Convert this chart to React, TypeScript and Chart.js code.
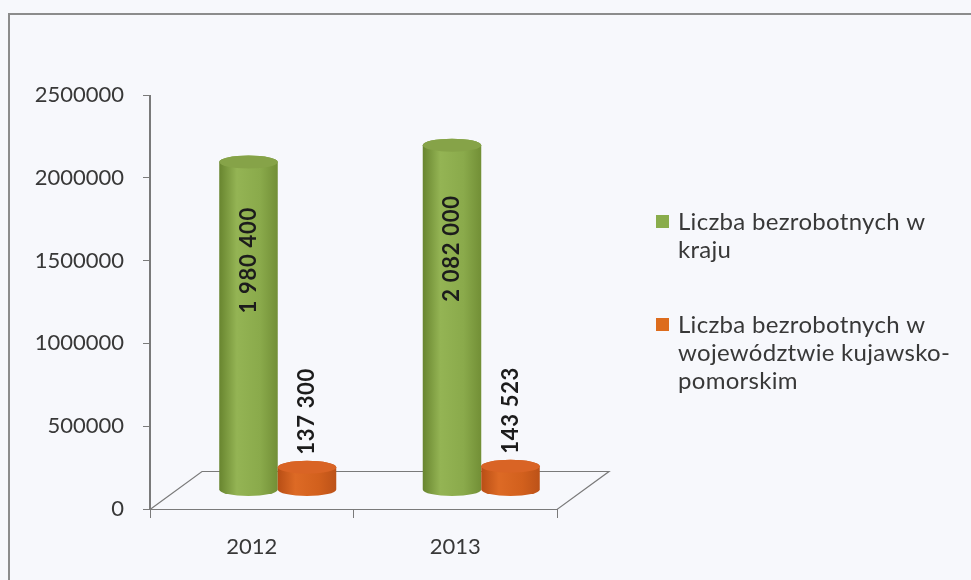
import React, { useEffect, useRef } from 'react';
import { Chart, registerables } from 'chart.js';

Chart.register(...registerables);

// ---- data ----
const categories = ['2012', '2013'];
const seriesNames = [
  'Liczba bezrobotnych w kraju',
  'Liczba bezrobotnych w województwie kujawsko-pomorskim',
];
const legendLines = [
  ['Liczba bezrobotnych w', 'kraju'],
  ['Liczba bezrobotnych w', 'województwie kujawsko-', 'pomorskim'],
];
const krajValues = [1980400, 2082000];
const regionValues = [137300, 143523];
const yMin = 0;
const yMax = 2500000;
const yStep = 500000;

// ---- styles ----
const FONT = 'Lato, "Open Sans", sans-serif';
const TEXT = '#383838';
const AXIS = '#7a7a7a';
const BG = '#f7f8fc';
const DEPTH_X = 52;
const DEPTH_Y = -38;
const BAR_DX = 26;
const BAR_DY = -19;
const ELL_RY = 6.5;

const palettes = [
  { stops: ['#68852f', '#94b454', '#8aaa4b', '#728f36'], top: '#86a348', legend: '#8aad4c' },
  { stops: ['#b84e15', '#dd6a25', '#d2601d', '#bc5218'], top: '#d96425', legend: '#dd6c1d' },
];

const fmt = (n: number) => String(n).replace(/\B(?=(\d{3})+(?!\d))/g, ' ');

function drawCylinder(ctx: CanvasRenderingContext2D, cx: number, top: number, bottom: number, w: number, pal: any) {
  const rx = w / 2;
  const g = ctx.createLinearGradient(cx - rx, 0, cx + rx, 0);
  g.addColorStop(0, pal.stops[0]);
  g.addColorStop(0.3, pal.stops[1]);
  g.addColorStop(0.7, pal.stops[2]);
  g.addColorStop(1, pal.stops[3]);
  ctx.beginPath();
  ctx.moveTo(cx - rx, top);
  ctx.lineTo(cx - rx, bottom);
  ctx.ellipse(cx, bottom, rx, ELL_RY, 0, Math.PI, 0, true);
  ctx.lineTo(cx + rx, top);
  ctx.ellipse(cx, top, rx, ELL_RY, 0, 0, Math.PI, true);
  ctx.closePath();
  ctx.fillStyle = g;
  ctx.fill();
  ctx.beginPath();
  ctx.ellipse(cx, top, rx, ELL_RY, 0, 0, Math.PI * 2);
  ctx.fillStyle = pal.top;
  ctx.fill();
}

const cylinderPlugin = {
  id: 'cylinder3d',
  beforeDraw(chart: any) {
    const ctx = chart.ctx as CanvasRenderingContext2D;
    ctx.save();
    ctx.fillStyle = BG;
    ctx.fillRect(0, 0, chart.width, chart.height);
    ctx.strokeStyle = '#8c8c8c';
    ctx.lineWidth = 2;
    ctx.beginPath();
    ctx.moveTo(9, chart.height);
    ctx.lineTo(9, 14);
    ctx.lineTo(chart.width, 14);
    ctx.stroke();
    ctx.restore();
  },
  beforeDatasetsDraw(chart: any) {
    const ctx = chart.ctx as CanvasRenderingContext2D;
    const { left, right, top, bottom } = chart.chartArea;
    ctx.save();
    ctx.strokeStyle = AXIS;
    ctx.lineWidth = 1.2;
    ctx.beginPath();
    ctx.moveTo(left, bottom + 0.5);
    ctx.lineTo(left + DEPTH_X, bottom + DEPTH_Y + 0.5);
    ctx.lineTo(right + DEPTH_X, bottom + DEPTH_Y + 0.5);
    ctx.lineTo(right, bottom + 0.5);
    ctx.closePath();
    ctx.stroke();
    // y axis line
    ctx.fillStyle = AXIS;
    ctx.fillRect(left - 1, top, 2, bottom - top + 1);
    ctx.restore();
    return false;
  },
  afterDraw(chart: any) {
    const ctx = chart.ctx as CanvasRenderingContext2D;
    ctx.save();
    chart.data.datasets.forEach((ds: any, di: number) => {
      const meta = chart.getDatasetMeta(di);
      meta.data.forEach((el: any, i: number) => {
        const cx = el.x + BAR_DX;
        const top = el.y + BAR_DY;
        const bottom = el.base + BAR_DY;
        drawCylinder(ctx, cx, top, bottom, el.width, palettes[di]);
        const label = fmt(ds.data[i]);
        ctx.save();
        ctx.fillStyle = '#1c1c1c';
        ctx.font = `bold 22px ${FONT}`;
        (ctx as any).letterSpacing = '0.7px';
        ctx.textBaseline = 'middle';
        if (di === 0) {
          ctx.translate(cx, top + 0.3 * (bottom - top));
          ctx.rotate(-Math.PI / 2);
          ctx.textAlign = 'center';
        } else {
          ctx.translate(cx, top - ELL_RY - 6);
          ctx.rotate(-Math.PI / 2);
          ctx.textAlign = 'left';
        }
        ctx.fillText(label, 0, 0);
        ctx.restore();
      });
    });

    // legend
    ctx.font = `24px ${FONT}`;
    (ctx as any).letterSpacing = '0.3px';
    ctx.textAlign = 'left';
    ctx.textBaseline = 'alphabetic';
    const starts = [230, 333];
    legendLines.forEach((lines, li) => {
      ctx.fillStyle = palettes[li].legend;
      ctx.fillRect(656, starts[li] - 15, 13, 13);
      ctx.fillStyle = TEXT;
      lines.forEach((t, k) => ctx.fillText(t, 678, starts[li] + k * 28));
    });
    ctx.restore();
  },
};

export default function App() {
  const ref = useRef<HTMLCanvasElement | null>(null);
  useEffect(() => {
    document.body.style.margin = '0';
    const canvas = ref.current!;
    const chart = new Chart(canvas, {
      type: 'bar',
      data: {
        labels: categories,
        datasets: [
          { label: seriesNames[0], data: krajValues, backgroundColor: palettes[0].legend },
          { label: seriesNames[1], data: regionValues, backgroundColor: palettes[1].legend },
        ],
      },
      options: {
        responsive: false,
        animation: false,
        events: [],
        layout: { padding: { left: 0, top: 95, right: 414, bottom: 21 } },
        datasets: { bar: { categoryPercentage: 0.575, barPercentage: 1 } },
        plugins: { legend: { display: false }, tooltip: { enabled: false } },
        scales: {
          x: {
            grid: { display: true, drawOnChartArea: false, drawTicks: true, tickLength: 9, color: AXIS, offset: true },
            border: { display: false },
            ticks: { color: TEXT, font: { family: FONT, size: 22 }, padding: 16 },
            afterFit: (s: any) => { s.height = 50; },
          },
          y: {
            min: yMin,
            max: yMax,
            grid: { display: true, drawOnChartArea: false, drawTicks: true, tickLength: 7, color: AXIS },
            border: { display: false },
            ticks: {
              stepSize: yStep,
              color: TEXT,
              font: { family: FONT, size: 22 },
              padding: 19,
              callback: (v: any) => String(v),
            },
            afterFit: (s: any) => { s.width = 150; },
          },
        },
      },
      plugins: [cylinderPlugin],
    });
    return () => chart.destroy();
  }, []);
  return (
    <div style={{ width: 971, height: 580, background: BG }}>
      <canvas ref={ref} width={971} height={580} style={{ display: 'block' }} />
    </div>
  );
}
